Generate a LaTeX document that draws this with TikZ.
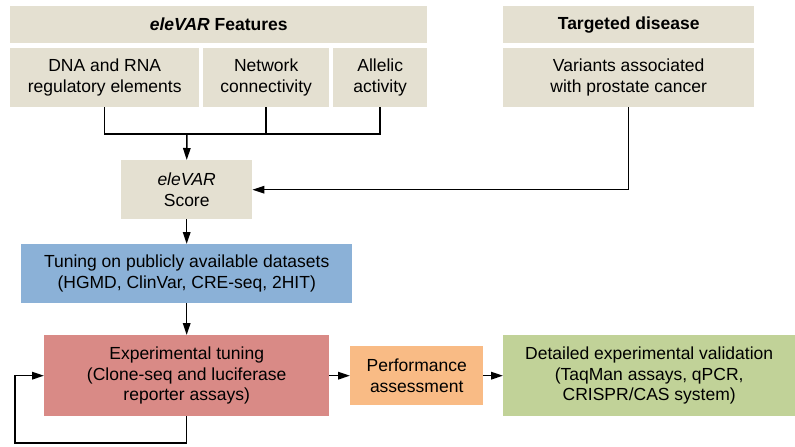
\documentclass[tikz,border=0pt]{standalone}
\usepackage{fontspec}
\setmainfont{Liberation Sans}
\usepackage{xcolor}
\usetikzlibrary{positioning}
\usetikzlibrary{arrows.meta}

\definecolor{beige}{HTML}{E4E0D1}
\definecolor{tuneblue}{HTML}{8BB1D7}
\definecolor{exprose}{HTML}{D98A86}
\definecolor{perforange}{HTML}{F9BB85}
\definecolor{validgreen}{HTML}{C1D298}

\begin{document}
\begin{tikzpicture}[x=1pt,y=-1pt,
  box/.style={anchor=north west, inner sep=0pt, align=center,
    font=\fontsize{17.5}{20.5}\selectfont},
  wire/.style={line width=1.5pt},
  arr/.style={wire, -{Triangle[length=12pt,width=7.5pt]}},
]
\useasboundingbox (0,0) rectangle (795,447);

% feature boxes
\node[box, fill=beige, minimum width=417pt, minimum height=37pt] (feat) at (10,6) {\textbf{\textit{eleVAR} Features}};
\node[box, fill=beige, minimum width=189pt, minimum height=59pt] (dna) at (10,48) {DNA and RNA\\regulatory elements};
\node[box, fill=beige, minimum width=126pt, minimum height=59pt] (net) at (203,48) {Network\\connectivity};
\node[box, fill=beige, minimum width=94pt, minimum height=59pt] (act) at (333,48) {Allelic\\activity};

% disease
\node[box, fill=beige, minimum width=251pt, minimum height=37pt] (dis) at (503,6) {\textbf{Targeted disease}};
\node[box, fill=beige, minimum width=251pt, minimum height=59pt] (var) at (503,48) {Variants associated\\with prostate cancer};

% pipeline
\node[box, fill=beige, minimum width=131pt, minimum height=59pt] (score) at (121,160) {\textit{eleVAR}\\Score};
\node[box, fill=tuneblue, minimum width=331pt, minimum height=59pt] (tune) at (21,244) {Tuning on publicly available datasets\\(HGMD, ClinVar, CRE-seq, 2HIT)};
\node[box, fill=exprose, minimum width=285pt, minimum height=81pt] (exp) at (44,335) {Experimental tuning\\(Clone-seq and luciferase\\reporter assays)};
\node[box, fill=perforange, minimum width=133pt, minimum height=59pt] (perf) at (350,346) {Performance\\assessment};
\node[box, fill=validgreen, minimum width=292pt, minimum height=81pt] (valid) at (503,335) {Detailed experimental validation\\(TaqMan assays, qPCR,\\CRISPR/CAS system)};

% connectors
\coordinate (bus) at (187,134);
\coordinate (loop) at (15,443);
\draw[wire] (dna.south) -- (dna.south |- bus) -- (act.south |- bus) -- (act.south);
\draw[wire] (net.south) -- (net.south |- bus);
\draw[arr] (bus) -- (score.north);
\draw[arr] (var.south) |- (score.east);
\draw[arr] (score.south) -- (tune.north);
\draw[arr] (tune.south) -- (exp.north);
\draw[arr] (exp.south) |- (loop) |- (exp.west);
\draw[arr] (exp.east) -- (perf.west);
\draw[arr] (perf.east) -- (valid.west);
\end{tikzpicture}
\end{document}
